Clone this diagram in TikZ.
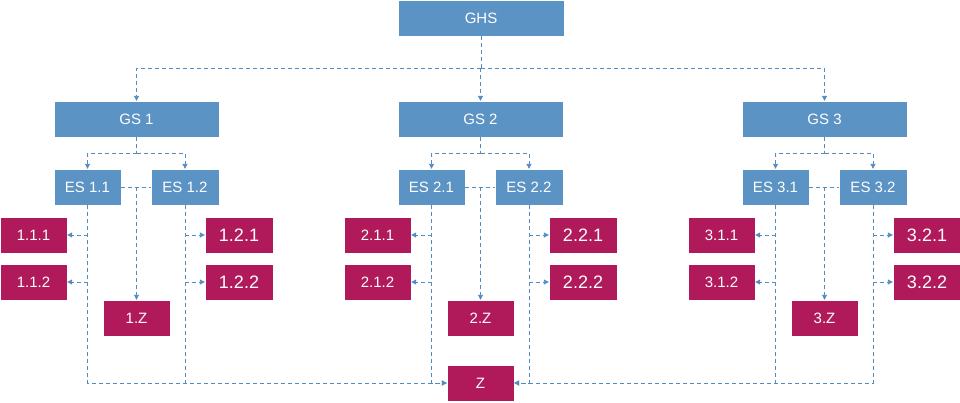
\documentclass[tikz,border=0pt]{standalone}
\usepackage{fontspec}
\setmainfont{Liberation Sans}
\usetikzlibrary{arrows.meta,positioning}
\definecolor{boxblue}{RGB}{91,147,197}
\definecolor{boxred}{RGB}{176,26,91}
\definecolor{linkblue}{RGB}{84,139,194}
\tikzset{>={Triangle[length=5pt,width=5pt]}}
\tikzstyle{block} = [fill=boxblue, draw=white, line width=0.4pt, text=white, minimum height=36pt, inner sep=0pt, font=\fontsize{15}{18}\selectfont]
\tikzstyle{leaf} = [block, fill=boxred, minimum width=67pt]
\tikzstyle{bigleaf} = [leaf, minimum width=68pt, font=\fontsize{18}{21}\selectfont]
\tikzstyle{conn} = [draw=linkblue, line width=0.9pt, dash pattern=on 4pt off 3pt]

\begin{document}
\begin{tikzpicture}[x=1pt,y=-1pt]
    \useasboundingbox (0,0) rectangle (960,402);
    \node [block, minimum width=166pt](GHS) at (481,18) {GHS};
    \node [leaf](Z) at (480.5,383) {Z};
    \coordinate (top) at (481,68);
    \draw [conn] (GHS) -- (top);

    \foreach \g in {1,2,3}
    {
        \pgfmathsetmacro{\dx}{344*(\g-1)}
        \node [block, minimum width=165pt](GS\g) at (136.5+\dx,119) {GS \g};
        \node [block, minimum width=67pt](ES\g1) at (87.5+\dx,187) {ES \g.1};
        \node [block, minimum width=68pt](ES\g2) at (185+\dx,187) {ES \g.2};
        \node [leaf](L\g11) at (33.5+\dx,235) {\g.1.1};
        \node [leaf](L\g12) at (33.5+\dx,282) {\g.1.2};
        \node [bigleaf](L\g21) at (239+\dx,235) {\g.2.1};
        \node [bigleaf](L\g22) at (239+\dx,282) {\g.2.2};
        \node [leaf](Z\g) at (136.5+\dx,318) {\g.Z};
        \coordinate (b\g) at (136.5+\dx,153);

        \draw [conn,->] (top) -| (GS\g);
        \draw [conn] (GS\g) -- (b\g);
        \draw [conn,->] (b\g) -| (ES\g1);
        \draw [conn,->] (b\g) -| (ES\g2);
        \draw [conn] (ES\g1) -- (ES\g2);
        \draw [conn,->] (ES\g1 -| Z\g) -- (Z\g);
        \draw [conn,->] (ES\g1 |- L\g11) -- (L\g11);
        \draw [conn,->] (ES\g1 |- L\g12) -- (L\g12);
        \draw [conn,->] (ES\g2 |- L\g21) -- (L\g21);
        \draw [conn,->] (ES\g2 |- L\g22) -- (L\g22);
    }

    % everything ends in Z
    \draw [conn,->] (ES11) |- (Z);
    \draw [conn] (ES12) -- (ES12 |- Z);
    \draw [conn,->] (ES21) |- (Z);
    \draw [conn,->] (ES22) |- (Z);
    \draw [conn] (ES31) -- (ES31 |- Z);
    \draw [conn,->] (ES32) |- (Z);
\end{tikzpicture}
\end{document}
